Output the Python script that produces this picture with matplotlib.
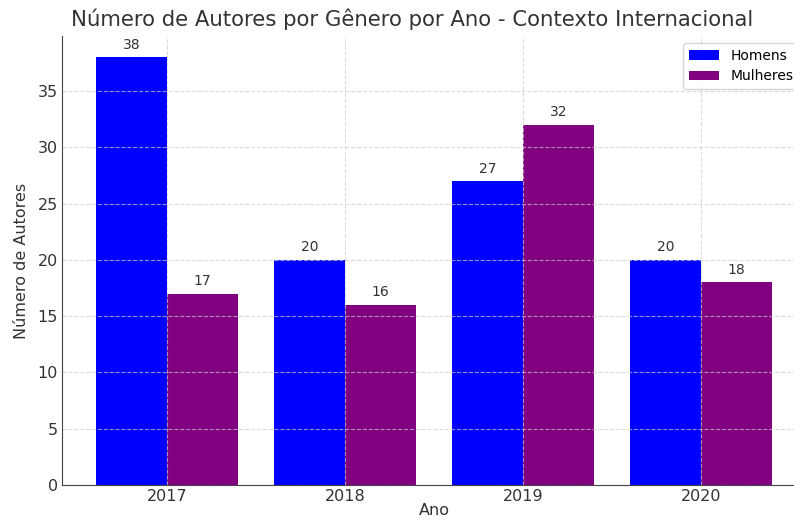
import numpy as np
from matplotlib import pyplot as plt

anos = ["2017", "2018", "2019", "2020"]
homens = [38, 20, 27, 20]
mulheres = [17, 16, 32, 18]


def main():
    fig = plt.figure(figsize=(7.94, 5.2), dpi=100)
    # the reference is cropped on the right, so the axes run past the figure edge
    ax = fig.add_axes([62 / 794, 35 / 520, 744 / 794, 449 / 520])

    x = np.arange(len(anos))
    w = 0.4
    b1 = ax.bar(x - w / 2, homens, w, color="blue", label="Homens")
    b2 = ax.bar(x + w / 2, mulheres, w, color="purple", label="Mulheres")

    for bars in (b1, b2):
        for rect in bars:
            h = rect.get_height()
            ax.annotate(str(int(h)), (rect.get_x() + rect.get_width() / 2, h),
                        xytext=(0, 4), textcoords="offset points",
                        ha="center", va="bottom", fontsize=10, color="#333333")

    ax.set_xticks(x)
    ax.set_xticklabels(anos)
    ax.set_xlabel("Ano", fontsize=11.5, color="#333333", labelpad=-1)
    ax.set_ylabel("Número de Autores", fontsize=11.5, color="#333333", labelpad=6)
    ax.set_title("Número de Autores por Gênero por Ano - Contexto Internacional",
                 fontsize=15.3, color="#333333", pad=7, x=0.47)
    ax.tick_params(labelsize=11.5, colors="#333333", length=0, pad=3)
    ax.grid(True, linestyle="--", color="#cccccc", alpha=0.7)
    ax.spines["top"].set_visible(False)
    ax.spines["right"].set_visible(False)
    ax.spines["left"].set_color("#444444")
    ax.spines["bottom"].set_color("#444444")
    ax.legend(loc="upper right", fontsize=10, handlelength=2.2)

    fig.savefig("out.png", dpi=100)


if __name__ == "__main__":
    main()
